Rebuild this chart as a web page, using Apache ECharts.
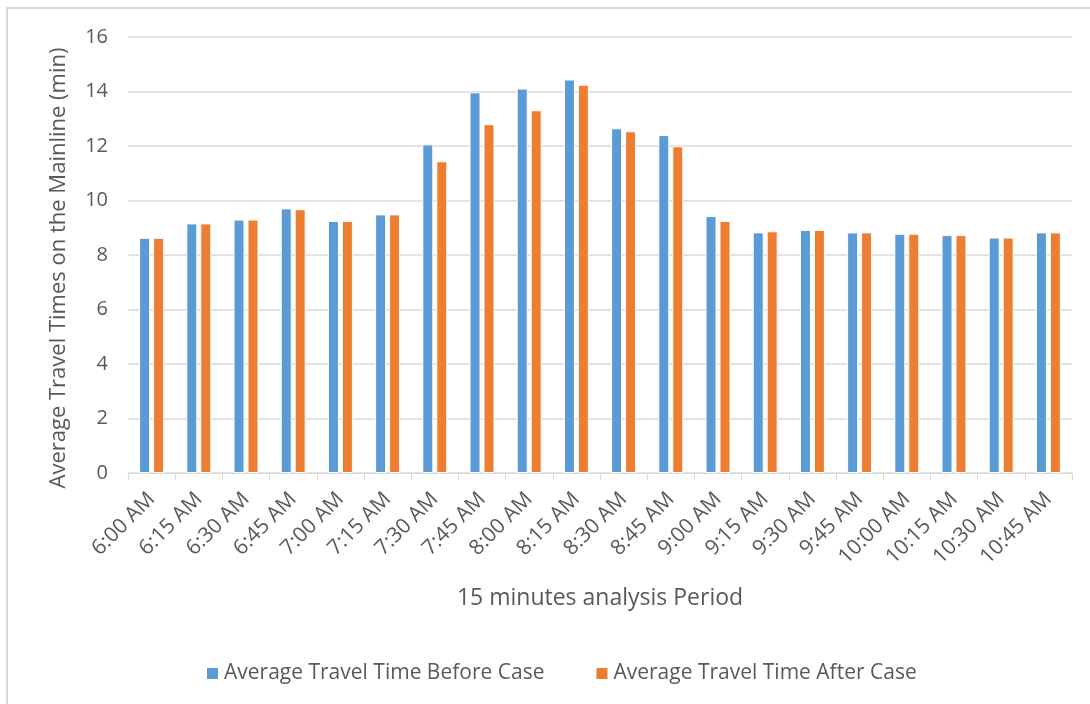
<!DOCTYPE html>
<html>
<head>
<meta charset="utf-8">
<script src="https://cdn.jsdelivr.net/npm/echarts@6/dist/echarts.min.js"></script>
<style>
html,body{margin:0;padding:0;background:#fff;}
#frame{position:absolute;left:6px;top:7px;width:1100px;height:720px;border:2px solid #d9d9d9;box-sizing:border-box;}
#chart{position:absolute;left:0;top:0;width:1090px;height:704px;}
</style>
</head>
<body>
<div id="frame"></div>
<div id="chart"></div>
<script>
const categories = ['6:00 AM','6:15 AM','6:30 AM','6:45 AM','7:00 AM','7:15 AM','7:30 AM','7:45 AM','8:00 AM','8:15 AM','8:30 AM','8:45 AM','9:00 AM','9:15 AM','9:30 AM','9:45 AM','10:00 AM','10:15 AM','10:30 AM','10:45 AM'];
const beforeCase = [8.63, 9.16, 9.30, 9.71, 9.25, 9.49, 12.06, 13.97, 14.11, 14.44, 12.65, 12.40, 9.43, 8.83, 8.92, 8.83, 8.78, 8.73, 8.64, 8.83];
const afterCase  = [8.63, 9.16, 9.30, 9.68, 9.25, 9.49, 11.44, 12.80, 13.31, 14.25, 12.54, 11.99, 9.25, 8.87, 8.92, 8.83, 8.78, 8.73, 8.64, 8.83];
const seriesNames = ['Average Travel Time Before Case','Average Travel Time After Case'];

const font = 'Open Sans';
const txt = '#595959';
const chart = echarts.init(document.getElementById('chart'));
chart.setOption({
  animation: false,
  textStyle: {fontFamily: font, color: txt},
  grid: {left: 128, right: 18, top: 37, bottom: 231, outerBoundsMode: 'none'},
  legend: {
    top: 658, left: 200, itemWidth: 13, itemHeight: 13, itemGap: 50,
    icon: 'rect',
    textStyle: {fontFamily: font, fontSize: 21, color: txt},
    data: seriesNames
  },
  xAxis: {
    type: 'category', data: categories,
    name: '15 minutes analysis Period', nameLocation: 'middle', nameGap: 114,
    nameTextStyle: {fontFamily: font, fontSize: 23, color: txt},
    axisLine: {lineStyle: {color: '#d9d9d9'}},
    axisTick: {show: true, length: 7, lineStyle: {color: '#d9d9d9'}},
    axisLabel: {rotate: 45, fontSize: 21, color: txt, margin: 23, interval: 0, overflow: 'none'}
  },
  yAxis: {
    type: 'value', min: 0, max: 16, interval: 2,
    name: 'Average Travel Times on the Mainline (min)', nameLocation: 'middle', nameGap: 58,
    nameTextStyle: {fontFamily: font, fontSize: 22, color: txt, padding: [0, 26, 0, 0]},
    axisLine: {show: false}, axisTick: {show: false},
    axisLabel: {fontSize: 20, color: txt, margin: 20},
    splitLine: {lineStyle: {color: '#d9d9d9', width: 1.5}}
  },
  series: [
    {name: seriesNames[0], type: 'bar', data: beforeCase, barWidth: 11, barGap: '27%',
     itemStyle: {color: '#5B9BD5', borderColor: '#ffffff', borderWidth: 1}},
    {name: seriesNames[1], type: 'bar', data: afterCase, barWidth: 11, barGap: '27%',
     itemStyle: {color: '#ED7D31', borderColor: '#ffffff', borderWidth: 1}}
  ]
});
</script>
</body>
</html>
